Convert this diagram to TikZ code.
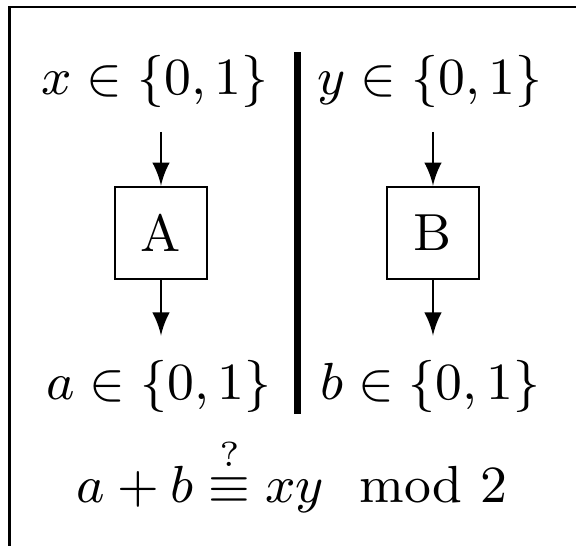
\documentclass[tikz,border=0pt]{standalone}
\usepackage{amsmath,amssymb}
\usepackage{tikz}
\usetikzlibrary{arrows.meta}

\begin{document}
\begin{tikzpicture}[
  x=0.1724pt, y=-0.1724pt, >=latex, font=\small,
  player/.style={rectangle, draw, minimum size=15.9pt, inner sep=0pt},
  bitset/.style={inner sep=4pt},
  wall/.style={line width=1.2pt}
]
\useasboundingbox (0,0) rectangle (576,546);

% frame (cut at the right and bottom)
\draw (576,7) -- (9.5,7) -- (9.5,546);

% inputs
\node[bitset] (xin) at (155,81.5) {$x \in \{0,1\}$};
\node[bitset] (yin) at (430,81.5) {$y \in \{0,1\}$};

% players
\node[player] (A) at (161,233) {A};
\node[player] (B) at (433,233) {B};

% outputs
\node[bitset] (aout) at (159,386) {$a \in \{0,1\}$};
\node[bitset] (bout) at (430,386) {$b \in \{0,1\}$};

\draw[->] (xin.south -| A.north) -- (A.north);
\draw[->] (yin.south -| B.north) -- (B.north);
\draw[->] (A.south) -- (aout.north -| A.south);
\draw[->] (B.south) -- (bout.north -| B.south);

% no communication
\coordinate (walltop) at (297.5,52);
\coordinate (wallbot) at (297.5,414);
\draw[wall] (walltop) -- (wallbot);

% winning condition
\node[anchor=base, inner sep=1pt] (win) at (292,502) {$a + b \overset{?}{\equiv} xy \mod 2$};

\end{tikzpicture}
\end{document}
